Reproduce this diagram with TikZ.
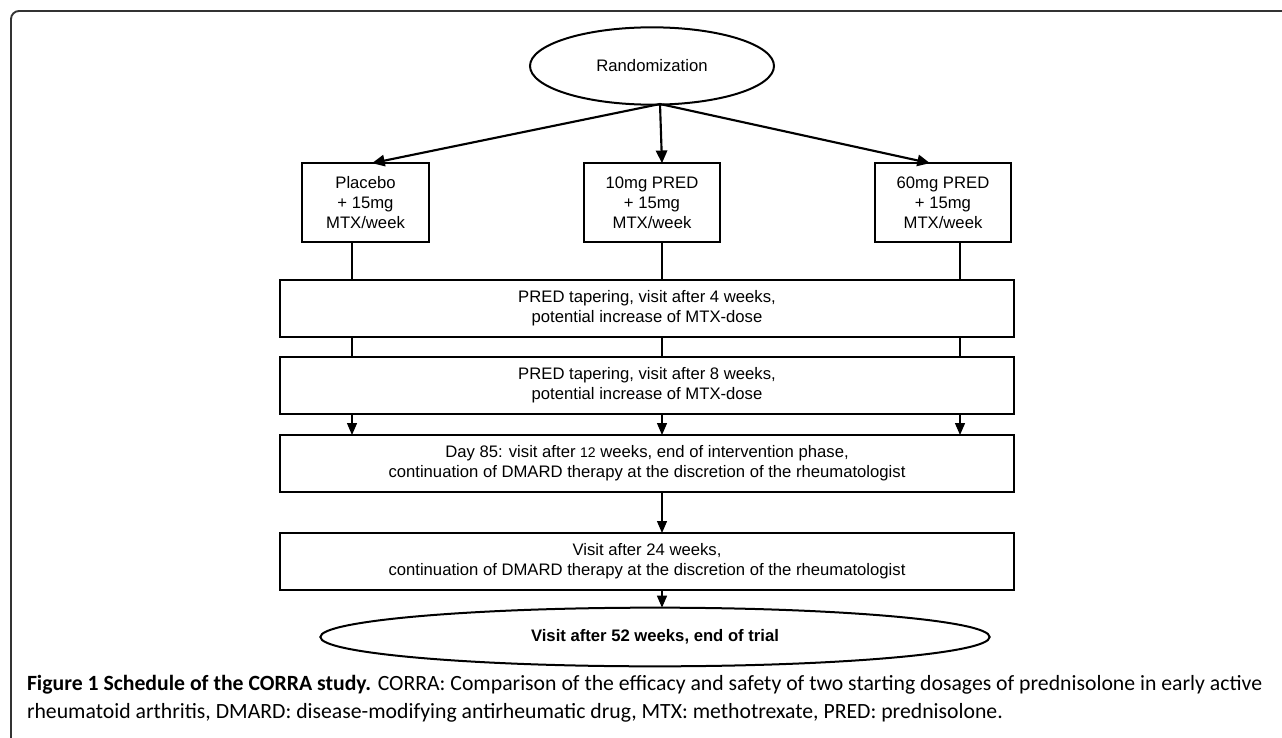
\documentclass[tikz,border=0pt]{standalone}
\usepackage{fontspec}
\setmainfont{Liberation Sans}
\newfontfamily\capfont{Carlito}
\usetikzlibrary{shapes.geometric,arrows.meta}
\begin{document}
\begin{tikzpicture}[x=0.75pt,y=-0.75pt,
  every node/.style={inner sep=0pt,outer sep=0pt},
  txt/.style={font=\fontsize{12.5}{15}\selectfont,align=center},
  gbox/.style={draw,line width=1.1pt,txt},
  oval/.style={draw,ellipse,line width=1.5pt,txt},
  link/.style={line width=1.0pt},
  tip/.style={line width=1.0pt,-{Triangle[width=7.5pt,length=9pt]}},
  bigtip/.style={line width=1.6pt,-{Triangle[width=8.5pt,length=9.5pt]}},
  captxt/.style={anchor=base west,font=\capfont\fontsize{16.3}{20}\selectfont},
  frame/.style={line width=1.4pt,draw=black!80,rounded corners=6pt}]
\useasboundingbox (0,0) rectangle (1282,738);
\draw[frame] (1300,11) -- (11,11) -- (11,760);
% column positions
\coordinate (cL) at (352,0);
\coordinate (cM) at (662,0);
\coordinate (cR) at (960,0);
\coordinate (tL) at (372,0);
\coordinate (tR) at (930,0);
\node[oval,minimum width=183pt,minimum height=58pt] (rand) at (652,66) {Randomization};
\node[gbox,minimum width=95pt,minimum height=59pt] (plc) at (365.5,202.5) {Placebo\\+ 15mg\\MTX/week};
\node[gbox,minimum width=102pt,minimum height=59pt] (mid) at (652,202.5) {10mg PRED\\+ 15mg\\MTX/week};
\node[gbox,minimum width=102pt,minimum height=59pt] (hi) at (943,202.5) {60mg PRED\\+ 15mg\\MTX/week};
\node[gbox,minimum width=550.5pt,minimum height=42.75pt] (b1) at (647,308.5) {PRED tapering, visit after 4 weeks,\\potential increase of MTX-dose};
\node[gbox,minimum width=550.5pt,minimum height=42.75pt] (b2) at (647,385.5) {PRED tapering, visit after 8 weeks,\\potential increase of MTX-dose};
\node[gbox,minimum width=550.5pt,minimum height=42.75pt] (b3) at (647,463.5) {Day 85: visit after {\fontsize{10.5}{15}\selectfont 12} weeks, end of intervention phase,\\continuation of DMARD therapy at the discretion of the rheumatologist};
\node[gbox,minimum width=550.5pt,minimum height=42.75pt] (b4) at (647,561.5) {Visit after 24 weeks,\\continuation of DMARD therapy at the discretion of the rheumatologist};
\node[oval,minimum width=502pt,minimum height=44pt] (fin) at (655,637) {\bfseries Visit after 52 weeks, end of trial};
% arrows from randomization
\coordinate (o) at (660,104);
\draw[bigtip] (o) -- (plc.north -| tL);
\draw[bigtip] (o) -- (mid.north -| cM);
\draw[bigtip] (o) -- (hi.north -| tR);
% columns
\foreach \c/\n in {cL/plc,cM/mid,cR/hi}{
  \draw[link] (\n.south -| \c) -- (b1.north -| \c);
  \draw[link] (b1.south -| \c) -- (b2.north -| \c);
  \draw[tip] (b2.south -| \c) -- (b3.north -| \c);
}
\draw[tip] (b3.south -| cM) -- (b4.north -| cM);
\draw[tip] (b4.south -| cM) -- (fin.north -| cM);
% caption
\node[captxt] (cap1) at (27,690) {\textbf{Figure 1 Schedule of the CORRA study.} CORRA: Comparison of the efficacy and safety of two starting dosages of prednisolone in early active};
\node[captxt] (cap2) at (27,718) {rheumatoid arthritis, DMARD: disease-modifying antirheumatic drug, MTX: methotrexate, PRED: prednisolone.};
\end{tikzpicture}
\end{document}
